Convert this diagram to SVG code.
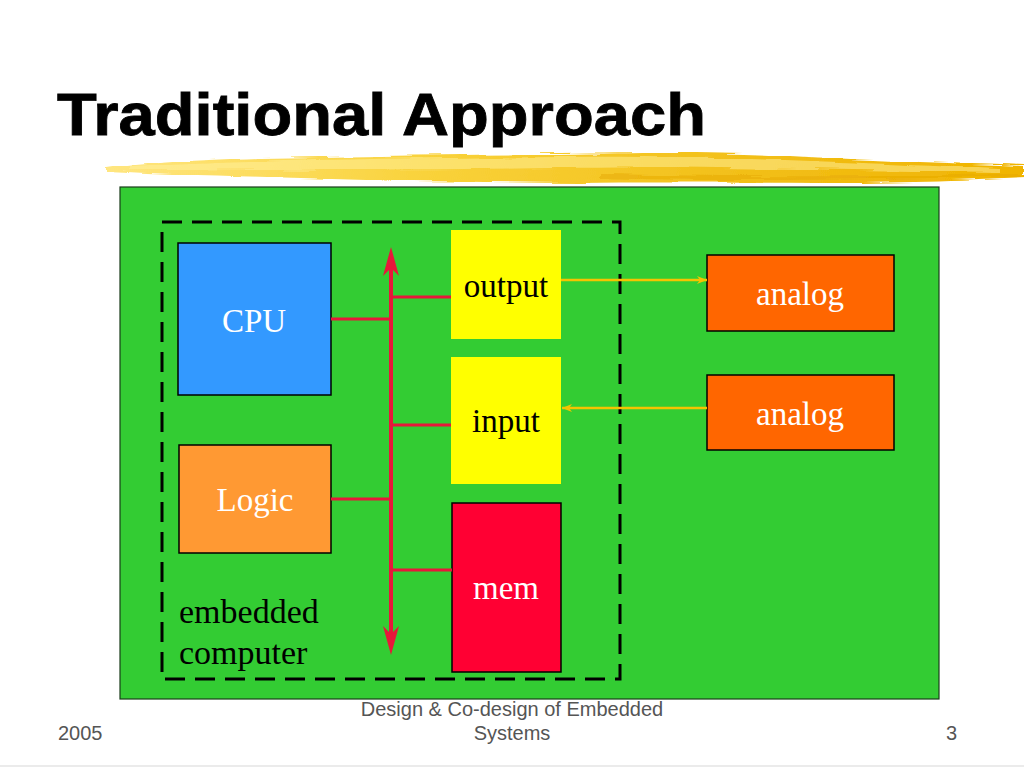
<svg xmlns="http://www.w3.org/2000/svg" width="1024" height="768" viewBox="0 0 1024 768">
<style>
.box{stroke:#000;stroke-width:1.5}
.lbl{font-family:"Liberation Serif","Times New Roman",serif;font-size:33px;text-anchor:middle}
.st{text-anchor:start;font-size:34px}
.w{fill:#fff}
.k{fill:#000}
.foot{font-family:"Liberation Sans",Arial,sans-serif;font-size:20px;fill:#555}
.bus{stroke:#e8173a;stroke-width:4;fill:none}
.red{stroke:#e8173a;stroke-width:3;fill:none}
.yel{stroke:#f5c400;stroke-width:2.5;fill:none}
</style>
<defs>
<linearGradient id="brush" x1="0" y1="0" x2="1" y2="0">
<stop offset="0" stop-color="#ffe680"/>
<stop offset="0.35" stop-color="#f9d23a"/>
<stop offset="0.7" stop-color="#f2bf18"/>
<stop offset="1" stop-color="#f0b400"/>
</linearGradient>
<filter id="rough" x="-2%" y="-50%" width="104%" height="200%">
<feTurbulence type="fractalNoise" baseFrequency="0.015 0.35" numOctaves="2" seed="3" result="n"/>
<feDisplacementMap in="SourceGraphic" in2="n" scale="6" xChannelSelector="R" yChannelSelector="G"/>
</filter>
<marker id="ya" viewBox="0 0 10 8" refX="10" refY="4" markerWidth="10" markerHeight="8" markerUnits="userSpaceOnUse" orient="auto">
<path d="M0,0 L10,4 L0,8 L3,4 Z" fill="#f5c400"/>
</marker>
</defs>
<rect x="0" y="0" width="1024" height="768" fill="#fff"/>
<g id="title">
<text x="57" y="135" font-family="Liberation Sans,Arial,sans-serif" font-weight="bold" font-size="59" textLength="649" lengthAdjust="spacingAndGlyphs" fill="#000" stroke="#000" stroke-width="0.8">Traditional Approach</text>
</g>
<g id="brushstroke" filter="url(#rough)">
<path d="M106,169 C140,163 200,160 260,158 C350,156 450,155 560,154 C650,153 720,152 790,156 C860,160 950,163 1024,166 L1024,178 C960,181 900,183 820,183 C740,183 660,182 580,183 C480,182 380,181 300,178 C230,176 160,174 106,171 Z" fill="url(#brush)"/>
<path d="M130,167 C250,160 420,158 560,157 C700,156 800,160 1000,169 L1000,172 C800,170 700,166 560,168 C420,170 250,170 130,169 Z" fill="#fff2a0" opacity="0.5"/>
<path d="M600,174 C700,176 820,178 1020,174 L1020,176 C820,181 700,181 600,178 Z" fill="#e6a800" opacity="0.5"/>
</g>
<g id="board">
<rect x="120" y="187" width="819" height="512" fill="#33cc33" stroke="#1a3d1a" stroke-width="1.2"/>
</g>
<g id="embedded-computer">
<rect x="162" y="222" width="458" height="457" fill="none" stroke="#000" stroke-width="3" stroke-dasharray="20 10"/>
<text class="lbl k st" x="179" y="623">embedded</text>
<text class="lbl k st" x="179" y="664">computer</text>
</g>
<g id="cpu">
<rect class="box" x="178" y="243" width="153" height="152" fill="#3399ff"/>
<text class="lbl w" x="254" y="332">CPU</text>
</g>
<g id="logic">
<rect class="box" x="179" y="445" width="152" height="108" fill="#ff9933"/>
<text class="lbl w" x="255" y="511">Logic</text>
</g>
<g id="output">
<rect x="451" y="230" width="110" height="109" fill="#ffff00"/>
<text class="lbl k" x="506" y="297">output</text>
</g>
<g id="input">
<rect x="451" y="357" width="110" height="127" fill="#ffff00"/>
<text class="lbl k" x="506" y="432">input</text>
</g>
<g id="mem">
<rect class="box" x="452" y="503" width="109" height="169" fill="#ff0033"/>
<text class="lbl w" x="506" y="599">mem</text>
</g>
<g id="analog-out">
<rect class="box" x="707" y="255" width="187" height="76" fill="#ff6600"/>
<text class="lbl w" x="800" y="305">analog</text>
</g>
<g id="analog-in">
<rect class="box" x="707" y="375" width="187" height="75" fill="#ff6600"/>
<text class="lbl w" x="800" y="425">analog</text>
</g>
<g id="connectors">
<line class="bus" x1="391" y1="262" x2="391" y2="640"/>
<path d="M391,247 L399,276 L391,268 L383,276 Z" fill="#e8173a"/>
<path d="M391,655 L399,626 L391,634 L383,626 Z" fill="#e8173a"/>
<line class="red" x1="331" y1="319" x2="391" y2="319"/>
<line class="red" x1="391" y1="297" x2="451" y2="297"/>
<line class="red" x1="391" y1="425" x2="451" y2="425"/>
<line class="red" x1="331" y1="499" x2="391" y2="499"/>
<line class="red" x1="391" y1="570" x2="452" y2="570"/>
<line class="yel" x1="561" y1="280" x2="707" y2="280" marker-end="url(#ya)"/>
<line class="yel" x1="707" y1="408" x2="562" y2="408" marker-end="url(#ya)"/>
</g>
<g id="footer">
<text class="foot" x="58" y="740">2005</text>
<text class="foot" x="512" y="716" text-anchor="middle">Design &amp; Co-design of Embedded</text>
<text class="foot" x="512" y="740" text-anchor="middle">Systems</text>
<text class="foot" x="957" y="740" text-anchor="end">3</text>
<line x1="0" y1="766" x2="1024" y2="766" stroke="#e4e4e4" stroke-width="1.5"/>
</g>
</svg>
